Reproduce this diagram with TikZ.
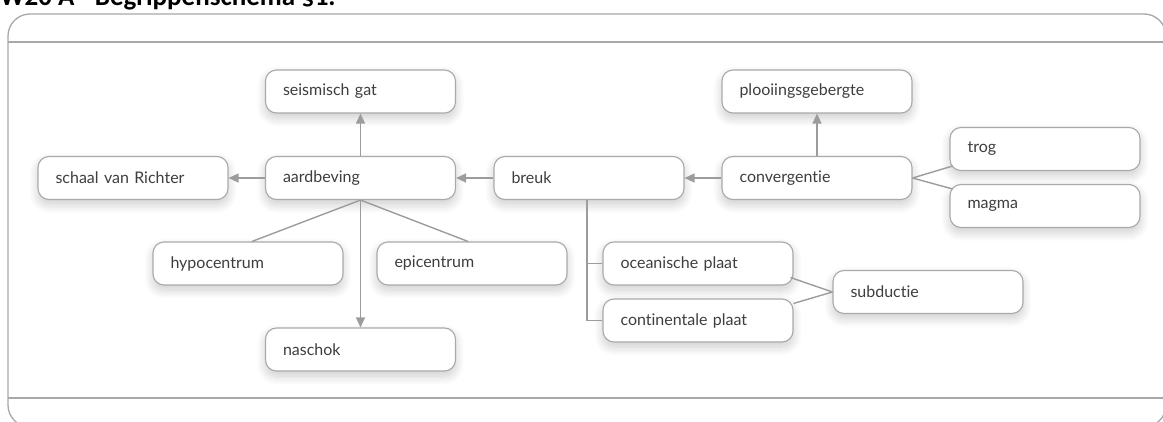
\documentclass[tikz,border=0pt]{standalone}
\usepackage{fontspec}
\setmainfont{Lato}[Ligatures={NoCommon,NoContextual}]
\newfontfamily\titlefont{Carlito}
\usetikzlibrary{arrows.meta,calc,shadows.blur}
\definecolor{nodeborder}{HTML}{A9A9A9}
\definecolor{linegray}{HTML}{9C9C9C}
\definecolor{textgray}{HTML}{3E3E3E}
\definecolor{framegray}{HTML}{A8A8A8}
\begin{document}
\begin{tikzpicture}[x=1pt,y=-1pt,
  concept/.style={draw=nodeborder, line width=1.1pt, rounded corners=11pt, fill=white,
    minimum height=43pt, text width=155pt, inner xsep=17.5pt, inner ysep=0pt, align=left,
    font=\fontsize{16}{18}\selectfont, text=textgray,
    blur shadow={shadow xshift=0pt, shadow yshift=-5pt, shadow blur radius=9pt, shadow opacity=20, shadow blur steps=10}},
  link/.style={draw=linegray, line width=1.4pt},
  arr/.style={link, -{Triangle[length=10pt,width=9pt]}},
  frameline/.style={draw=framegray, line width=1.3pt},
]
\useasboundingbox (0,0) rectangle (1163,422);
% frame
\draw[frameline, rounded corners=22pt] (8,14) rectangle (1166,427);
\draw[frameline] (8,42) -- (1166,42);
\draw[frameline] (8,398) -- (1166,398);
% title
\node[anchor=base west, inner sep=0pt, font=\titlefont\bfseries\fontsize{27}{30}\selectfont] (title) at (0,6) {W20 A - Begrippenschema §1.};
% nodes
\node[concept] (seis) at (360.5,91.5) {seismisch gat};
\node[concept] (richter) at (133,178) {schaal van Richter};
\node[concept] (aard) at (360.5,178) {aardbeving};
\node[concept] (breuk) at (589,178) {breuk};
\node[concept] (conv) at (817,178) {convergentie};
\node[concept] (plooi) at (817,91.5) {plooiingsgebergte};
\node[concept] (trog) at (1045,149) {trog};
\node[concept] (magma) at (1045,206) {magma};
\node[concept] (hypo) at (248,263.5) {hypocentrum};
\node[concept] (epi) at (472,263.5) {epicentrum};
\node[concept] (nas) at (360.5,349.5) {naschok};
\node[concept] (ocean) at (698,263.5) {oceanische plaat};
\node[concept] (cont) at (698,320.5) {continentale plaat};
\node[concept] (sub) at (928,292) {subductie};
% connectors
\draw[arr] (aard.north) -- (seis.south);
\draw[arr] (aard.west) -- (richter.east);
\draw[arr] (breuk.west) -- (aard.east);
\draw[arr] (conv.west) -- (breuk.east);
\draw[arr] (conv.north) -- (plooi.south);
\draw[link] (conv.east) -- ($(trog.south west)+(3,-5)$);
\draw[link] (conv.east) -- ($(magma.north west)+(3,5)$);
\draw[link] (aard.south) -- ($(hypo.north)+(4,0)$);
\draw[link] (aard.south) -- ($(epi.north)+(-4,0)$);
\draw[arr] (aard.south) -- (nas.north);
\coordinate (bs) at ($(breuk.south)+(-2,0)$);
\draw[link] (bs) |- (cont.west);
\draw[link] (bs |- ocean.west) -- (ocean.west);
\draw[link] ($(ocean.south east)+(-3,-8)$) -- (sub.west);
\draw[link] ($(cont.north east)+(0,5)$) -- (sub.west);
\end{tikzpicture}
\end{document}
